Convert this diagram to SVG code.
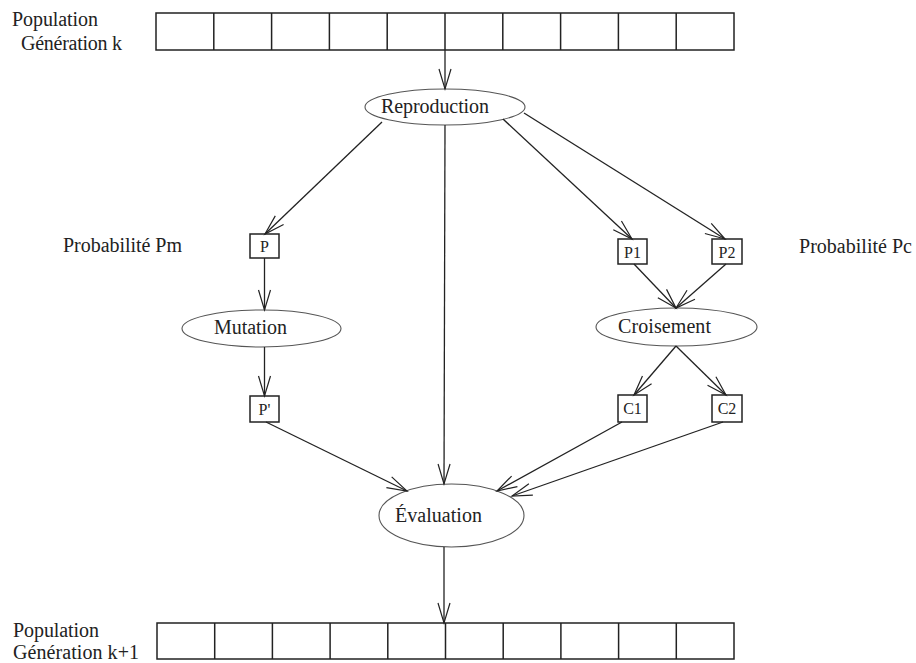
<svg xmlns="http://www.w3.org/2000/svg" width="916" height="663" viewBox="0 0 916 663">
  <defs>
    <style>
      .lbl { font-family: "Liberation Serif", "Times New Roman", serif; font-size: 20px; fill: #222; }
      .box-lbl { font-family: "Liberation Serif", "Times New Roman", serif; font-size: 16px; fill: #222; text-anchor: middle; }
      .cell { fill: #fff; stroke: #222; stroke-width: 1.5; }
      .node-box { fill: #fff; stroke: #222; stroke-width: 1.5; }
      .node-ell { fill: #fff; stroke: #555; stroke-width: 1.1; }
      .edge { fill: none; stroke: #222; stroke-width: 1.3; marker-end: url(#vee); }
    </style>
    <marker id="vee" markerUnits="userSpaceOnUse" markerWidth="24" markerHeight="16" refX="0" refY="0" viewBox="-22 -8 24 16" orient="auto" overflow="visible">
      <path d="M -20 -6 L 0 0 L -20 6" fill="none" stroke="#222" stroke-width="1.2"/>
    </marker>
  </defs>
  <rect width="916" height="663" fill="#fff"/>

  <!-- population k -->
  <g id="pop-k">
    <text class="lbl" x="12" y="26" textLength="86">Population</text>
    <text class="lbl" x="21" y="50" textLength="101">Génération k</text>
    <rect class="cell" x="156" y="13" width="578" height="37"/>
    <path d="M213.8 13V50M271.6 13V50M329.4 13V50M387.2 13V50M445 13V50M502.8 13V50M560.6 13V50M618.4 13V50M676.2 13V50" stroke="#222" stroke-width="1.5"/>
  </g>

  <!-- population k+1 -->
  <g id="pop-k1">
    <text class="lbl" x="13" y="637" textLength="86">Population</text>
    <text class="lbl" x="13" y="659" textLength="126">Génération k+1</text>
    <rect class="cell" x="157" y="623" width="577" height="36"/>
    <path d="M214.7 623V659M272.4 623V659M330.1 623V659M387.8 623V659M445.5 623V659M503.2 623V659M560.9 623V659M618.6 623V659M676.3 623V659" stroke="#222" stroke-width="1.5"/>
  </g>

  <g id="reproduction">
    <ellipse class="node-ell" cx="445" cy="107" rx="80" ry="18"/>
    <text class="lbl" x="381" y="113" textLength="108">Reproduction</text>
  </g>

  <g id="prob-pm">
    <text class="lbl" x="63" y="252" textLength="119">Probabilité Pm</text>
  </g>
  <g id="prob-pc">
    <text class="lbl" x="799" y="253" textLength="113">Probabilité Pc</text>
  </g>

  <g id="p">
    <rect class="node-box" x="250" y="234" width="29" height="24"/>
    <text class="box-lbl" x="264.5" y="252">P</text>
  </g>
  <g id="mutation">
    <ellipse class="node-ell" cx="261.5" cy="328.5" rx="79.5" ry="18.5"/>
    <text class="lbl" x="214" y="334" textLength="73">Mutation</text>
  </g>
  <g id="p-prime">
    <rect class="node-box" x="250" y="396" width="29" height="26"/>
    <text class="box-lbl" x="264.5" y="415">P'</text>
  </g>

  <g id="p1">
    <rect class="node-box" x="618" y="239" width="29" height="25"/>
    <text class="box-lbl" x="632.5" y="258">P1</text>
  </g>
  <g id="p2">
    <rect class="node-box" x="712" y="239" width="30" height="25"/>
    <text class="box-lbl" x="727" y="258">P2</text>
  </g>
  <g id="croisement">
    <ellipse class="node-ell" cx="676.5" cy="327" rx="80.5" ry="19"/>
    <text class="lbl" x="618" y="333" textLength="93">Croisement</text>
  </g>
  <g id="c1">
    <rect class="node-box" x="618" y="395" width="29" height="27"/>
    <text class="box-lbl" x="632.5" y="414">C1</text>
  </g>
  <g id="c2">
    <rect class="node-box" x="712" y="395" width="30" height="27"/>
    <text class="box-lbl" x="727" y="414">C2</text>
  </g>

  <g id="evaluation">
    <ellipse class="node-ell" cx="451.5" cy="515.5" rx="72.5" ry="31.5"/>
    <text class="lbl" x="395" y="522" textLength="87">Évaluation</text>
  </g>

  <!-- connectors -->
  <g id="connectors">
    <path class="edge" d="M445 50L445 89"/>
    <path class="edge" d="M382 122L265 234"/>
    <path class="edge" d="M445 125L444 484"/>
    <path class="edge" d="M503 119L632 239"/>
    <path class="edge" d="M524 113L725 239"/>
    <path class="edge" d="M264.5 258L264.5 310"/>
    <path class="edge" d="M264.5 347L264.5 396"/>
    <path class="edge" d="M634 264L676 308"/>
    <path class="edge" d="M726 264L676 308"/>
    <path class="edge" d="M676 346L634 395"/>
    <path class="edge" d="M676 346L726 395"/>
    <path class="edge" d="M266 422L407 491"/>
    <path class="edge" d="M622 422L497 491"/>
    <path class="edge" d="M723 422L512 496"/>
    <path class="edge" d="M444 547L444 623"/>
  </g>
</svg>
